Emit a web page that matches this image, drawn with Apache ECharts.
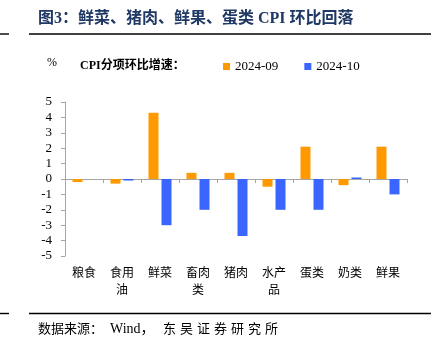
<!DOCTYPE html>
<html>
<head>
<meta charset="utf-8">
<script src="https://cdn.jsdelivr.net/npm/echarts@6/dist/echarts.min.js"></script>
<style>
  html, body { margin: 0; padding: 0; background: #fff; }
  #chart { width: 433px; height: 349px; }
</style>
</head>
<body>
<div id="chart"></div>
<script>
// CPI sub-item month-over-month growth (%)
const categories = ['粮食', '食用\n油', '鲜菜', '畜肉\n类', '猪肉', '水产\n品', '蛋类', '奶类', '鲜果'];
const sep2024 = [-0.2, -0.3, 4.3, 0.4, 0.4, -0.5, 2.1, -0.4, 2.1];
const oct2024 = [0, -0.1, -3.0, -2.0, -3.7, -2.0, -2.0, 0.1, -1.0];
const seriesNames = ['2024-09', '2024-10'];
const yTicks = { min: -5, max: 5, interval: 1 };

const cjk = '"Noto Sans CJK SC", sans-serif';
const serif = '"Liberation Serif", "Noto Sans CJK SC", serif';

// Lay out a string one glyph at a time with a fixed advance (wide-spaced CJK text)
function spacedText(str, x, y, step, style) {
  return Array.from(str).map((ch, i) => ({
    type: 'text', left: x + i * step, top: y,
    style: Object.assign({ text: ch }, style)
  }));
}

const sourceStyle = { fontFamily: cjk, fontSize: 13, fill: '#000' };

const chart = echarts.init(document.getElementById('chart'), null, { renderer: 'canvas' });

chart.setOption({
  animation: false,
  backgroundColor: '#fff',
  grid: { left: 65, right: 26, top: 102, bottom: 93 },
  legend: {
    left: 223, top: 60, padding: 0,
    itemWidth: 7, itemHeight: 7, itemGap: 26,
    icon: 'rect',
    textStyle: { fontFamily: serif, fontSize: 13, color: '#000' },
    data: seriesNames
  },
  xAxis: [
    {
      type: 'category',
      data: categories,
      axisLine: { onZero: true, lineStyle: { color: '#a6a6a6', width: 1 } },
      axisTick: { show: true, length: 4, lineStyle: { color: '#a6a6a6' } },
      axisLabel: { show: false }
    },
    {
      type: 'category',
      data: categories,
      position: 'bottom',
      axisLine: { show: false },
      axisTick: { show: false },
      axisLabel: {
        margin: 8,
        fontFamily: cjk, fontSize: 12, color: '#000', lineHeight: 17
      }
    }
  ],
  yAxis: {
    type: 'value',
    min: yTicks.min, max: yTicks.max, interval: yTicks.interval,
    axisLine: { show: true, lineStyle: { color: '#a6a6a6' } },
    axisTick: { show: true, length: 4, lineStyle: { color: '#a6a6a6' } },
    splitLine: { show: false },
    axisLabel: { margin: 13, fontFamily: serif, fontSize: 13, color: '#000' }
  },
  series: [
    {
      name: seriesNames[0], type: 'bar', data: sep2024,
      xAxisIndex: 0, barWidth: 10, barGap: '30%',
      itemStyle: { color: '#FF9900' }
    },
    {
      name: seriesNames[1], type: 'bar', data: oct2024,
      xAxisIndex: 0, barWidth: 10, barGap: '30%',
      itemStyle: { color: '#3A66FF' }
    }
  ],
  graphic: [
    { type: 'text', left: 38, top: 11,
      style: { text: '图3：鲜菜、猪肉、鲜果、蛋类 CPI 环比回落', fontFamily: serif, fontWeight: 'bold', fontSize: 16, fill: '#1F3864' } },
    { type: 'line', shape: { x1: 0, y1: 34, x2: 9, y2: 34 }, style: { stroke: '#000', lineWidth: 1.4 } },
    { type: 'line', shape: { x1: 29, y1: 34, x2: 431, y2: 34 }, style: { stroke: '#000', lineWidth: 1.4 } },
    { type: 'text', left: 47, top: 57,
      style: { text: '%', fontFamily: serif, fontSize: 12, fill: '#000' } },
    { type: 'text', left: 80, top: 60,
      style: { text: 'CPI分项环比增速：', fontFamily: serif, fontWeight: 'bold', fontSize: 12, fill: '#000' } },
    { type: 'line', shape: { x1: 0, y1: 313.5, x2: 9, y2: 313.5 }, style: { stroke: '#000', lineWidth: 1.4 } },
    { type: 'line', shape: { x1: 29, y1: 313.5, x2: 431, y2: 313.5 }, style: { stroke: '#000', lineWidth: 1.4 } },
    ...spacedText('数据来源：', 38, 322, 13, sourceStyle),
    { type: 'text', left: 110, top: 322,
      style: { text: 'Wind，', fontFamily: serif, fontSize: 14, fill: '#000' } },
    ...spacedText('东吴证券研究所', 163, 322, 17, sourceStyle)
  ]
});
</script>
</body>
</html>
